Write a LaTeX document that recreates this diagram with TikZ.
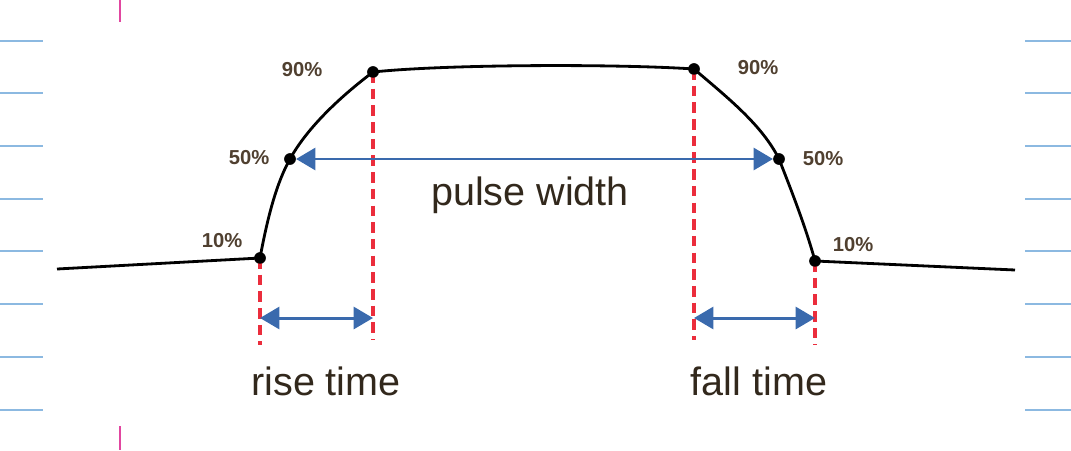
\documentclass[tikz,border=0pt]{standalone}
\usepackage{fontspec}
\setmainfont{Liberation Sans}
\definecolor{myblue}{RGB}{58,106,173}
\definecolor{myred}{RGB}{235,45,60}
\definecolor{mybrown}{RGB}{80,64,48}
\definecolor{mytext}{RGB}{50,40,28}
\definecolor{myrule}{RGB}{140,185,225}
\definecolor{mypink}{RGB}{225,70,160}
\usetikzlibrary{arrows.meta,positioning,calc}

\begin{document}
\begin{tikzpicture}[x=0.02cm,y=-0.02cm,
    dot/.style={circle,fill=black,inner sep=0pt,minimum size=6.5pt},
    pct/.style={font=\fontsize{11.5}{13}\selectfont\bfseries,text=mybrown,inner sep=1pt},
    lbl/.style={font=\fontsize{22.5}{26}\selectfont,text=mytext},
    pulse/.style={line width=1.6pt,black},
    marker/.style={myred,line width=2pt,dash pattern=on 6pt off 3.5pt},
    span/.style={myblue,line width=1.7pt,{Triangle[length=11pt,width=12.5pt]}-{Triangle[length=11pt,width=12.5pt]}},
    rule/.style={myrule,line width=0.6pt}
    ]
    \useasboundingbox (0,0) rectangle (1071,450);

    % ruled paper in the background
    \foreach \y in {41,93,146,199,251,304,357,410} {
    \draw[rule] (0,\y) -- (43,\y);
    \draw[rule] (1025,\y) -- (1071,\y);
    }
    \draw[mypink,line width=0.8pt] (120,0) -- (120,22);
    \draw[mypink,line width=0.8pt] (120,426) -- (120,450);

    % the points of the pulse
    \coordinate (bl) at (57,269);
    \coordinate (br) at (1015,270);
    \node[dot] (r10) at (260,258) {};
    \node[dot] (r50) at (290,159) {};
    \node[dot] (r90) at (373,72) {};
    \node[dot] (f90) at (694,69) {};
    \node[dot] (f50) at (779,159) {};
    \node[dot] (f10) at (815,261) {};

    % the levels
    \node[pct] (lr90) at (302,70) {90\%};
    \node[pct] (lr50) at (249,158) {50\%};
    \node[pct] (lr10) at (222,241) {10\%};
    \node[pct] (lf90) at (758,68) {90\%};
    \node[pct] (lf50) at (823,159) {50\%};
    \node[pct] (lf10) at (853,245) {10\%};

    % the markers
    \coordinate (ta) at (0,318);
    \coordinate (mb) at (0,345);
    \coordinate (ms) at (0,340);
    \draw[marker] (r10.center) -- (r10 |- mb);
    \draw[marker] (r90.center) -- (r90 |- ms);
    \draw[marker] (f90.center) -- (f90 |- ms);
    \draw[marker] (f10.center) -- (f10 |- mb);

    % the pulse
    \draw[pulse] (bl) -- (r10.center)
    .. controls (268,215) and (277,182) .. (r50.center)
    .. controls (306,130) and (336,100) .. (r90.center)
    .. controls (450,64) and (620,64) .. (f90.center)
    .. controls (728,98) and (762,125) .. (f50.center)
    .. controls (792,192) and (806,228) .. (f10.center)
    -- (br);
    \foreach \p in {r10,r50,r90,f90,f50,f10}
    \node[dot] at (\p) {};

    % the spans
    \draw[span] (r50) -- (f50);
    \draw[span] (r10 |- ta) -- (r90 |- ta);
    \draw[span] (f90 |- ta) -- (f10 |- ta);

    \node[lbl] (pw) at (530,195) {pulse width};
    \node[lbl] (rt) at (326,381) {rise time};
    \node[lbl] (ft) at (759,381) {fall time};
\end{tikzpicture}
\end{document}
